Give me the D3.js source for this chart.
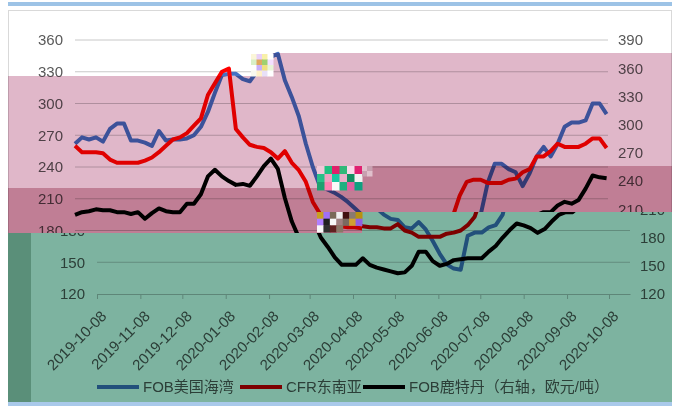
<!DOCTYPE html>
<html>
<head>
<meta charset="utf-8">
<script src="https://cdn.jsdelivr.net/npm/d3@7"></script>
<style>
  body { margin: 0; background: #fff; }
  text { font-family: "Liberation Sans", Arial, "Noto Sans CJK SC", sans-serif; }
</style>
</head>
<body>
<svg id="chart" width="680" height="406"></svg>
<script>
// sample dates (every 5 days)
var dates = [
  "2019-10-08","2019-10-13","2019-10-18","2019-10-23","2019-10-28","2019-11-02","2019-11-07","2019-11-12","2019-11-17","2019-11-22",
  "2019-11-27","2019-12-02","2019-12-07","2019-12-12","2019-12-17","2019-12-22","2019-12-27","2020-01-01","2020-01-06","2020-01-11",
  "2020-01-16","2020-01-21","2020-01-26","2020-01-31","2020-02-05","2020-02-10","2020-02-15","2020-02-20","2020-02-25","2020-03-01",
  "2020-03-06","2020-03-11","2020-03-16","2020-03-21","2020-03-26","2020-03-31","2020-04-05","2020-04-10","2020-04-15","2020-04-20",
  "2020-04-25","2020-04-30","2020-05-05","2020-05-10","2020-05-15","2020-05-20","2020-05-25","2020-05-30","2020-06-04","2020-06-09",
  "2020-06-14","2020-06-19","2020-06-24","2020-06-29","2020-07-04","2020-07-09","2020-07-14","2020-07-19","2020-07-24","2020-07-29",
  "2020-08-03","2020-08-08","2020-08-13","2020-08-18","2020-08-23","2020-08-28","2020-09-02","2020-09-07","2020-09-12","2020-09-17",
  "2020-09-22","2020-09-27","2020-10-02","2020-10-07","2020-10-12","2020-10-17","2020-10-22"
];

// FOB US Gulf (left axis)
var usGulf = [
  262,268,266,268,264,276,281,281,265,265,
  263,260,274,265,266,266,267,270,278,292,
  310,327,328,328,323,321,330,337,344,347,
  322,306,288,262,240,222,219,216,212,207,
  201,195,191,190,183,182,188,181,170,158,
  148,144,143,175,178,178,183,185,195,225,
  243,243,238,235,222,234,250,259,250,262,
  278,282,282,284,300,300,290
];

// CFR South-East Asia (left axis)
var cfrAsia = [
  260,254,254,254,253,247,244,244,244,244,
  246,249,254,260,266,268,272,279,286,308,
  319,330,333,276,268,261,259,258,254,248,
  255,244,237,226,207,196,190,186,184,183,
  183,182,182,186,180,178,174,174,174,174,
  177,178,180,185,193,213,226,228,228,225,
  225,225,228,229,235,238,250,250,255,262,
  259,259,259,262,267,267,258
];

// FOB Rotterdam (right axis, EUR/t)
var rotterdam = [
  204,207,208,210,209,209,207,207,205,207,
  200,206,211,208,207,207,216,216,226,245,
  252,245,240,236,237,235,245,256,264,253,
  222,197,180,170,159,151,151,151,158,151,
  148,146,144,142,143,150,165,165,155,150,
  152,156,157,158,158,158,165,171,180,188,
  195,193,190,185,189,197,204,207,207,214,
  218,216,220,232,246,244,243
];

var leftTicks = [120, 150, 180, 210, 240, 270, 300, 330, 360];
var rightTicks = [120, 150, 180, 210, 240, 270, 300, 330, 360, 390];
var monthTicks = ["2019-10-08","2019-11-08","2019-12-08","2020-01-08","2020-02-08","2020-03-08","2020-04-08",
                  "2020-05-08","2020-06-08","2020-07-08","2020-08-08","2020-09-08","2020-10-08"];
var seriesNames = ["FOB美国海湾", "CFR东南亚", "FOB鹿特丹（右轴，欧元/吨）"];
var seriesColors = ["#4472c4", "#ff0000", "#000000"];

var parse = d3.timeParse("%Y-%m-%d");
var fmt = d3.timeFormat("%Y-%m-%d");

var rows = dates.map(function(d, i) {
  return { date: parse(d), us: usGulf[i], asia: cfrAsia[i], rot: rotterdam[i] };
});

var x = d3.scaleTime().domain([parse("2019-10-08"), parse("2020-10-23")]).range([75, 608]);
var yL = d3.scaleLinear().domain([120, 360]).range([294, 40]);
var yR = d3.scaleLinear().domain([120, 390]).range([294, 40]);

var svg = d3.select("#chart");
var defs = svg.append("defs");

// regions of the (glitched) picture
var topPoly = [[0,0],[680,0],[680,212],[362,212],[362,233],[0,233]];
var greenPoly = [[31,233],[362,233],[362,212],[672,212],[672,402],[31,402]];
var lightPink = [[8,76],[273,76],[273,53],[672,53],[672,166],[317,166],[317,188],[8,188]];
var darkPink = [[8,188],[317,188],[317,166],[672,166],[672,212],[362,212],[362,233],[8,233]];

function pts(p) { return p.map(function(q) { return q.join(","); }).join(" "); }

defs.append("clipPath").attr("id", "clipTop").append("polygon").attr("points", pts(topPoly));
defs.append("clipPath").attr("id", "clipGreen").append("polygon").attr("points", pts(greenPoly));

// part: "top" = original position, "low" = block displaced to the right
function drawChart(g, part) {
  var isTop = part === "top";

  g.append("rect")
    .attr("x", 8.5).attr("y", 10.5).attr("width", 663).attr("height", 392)
    .attr("fill", "#fff").attr("stroke", "#d9d9d9");

  // gridlines
  g.append("g").selectAll("line")
    .data(leftTicks.slice(1))
    .join("line")
    .attr("x1", 75).attr("x2", 608)
    .attr("y1", d => yL(d)).attr("y2", d => yL(d))
    .attr("stroke", "#c8c8c8").attr("stroke-width", 1);

  // only labels that can show in this part
  var lt = leftTicks.filter(d => isTop ? d >= 180 : d <= 180);
  var rt = rightTicks.filter(d => isTop ? d >= 210 : d <= 210);

  var yAxisL = d3.axisLeft(yL).tickValues(lt).tickSize(0).tickPadding(12);
  var yAxisR = d3.axisRight(yR).tickValues(rt).tickSize(0).tickPadding(10);

  var gl = g.append("g").attr("transform", "translate(75,0)").call(yAxisL);
  var gr = g.append("g").attr("transform", "translate(608,0)").call(yAxisR);
  [gl, gr].forEach(function(a) {
    a.select(".domain").remove();
    a.selectAll("text").attr("font-size", 15).attr("fill", "#595959")
      .style("font-family", "'Liberation Sans', Arial, sans-serif");
  });

  if (!isTop) {
    var xAxis = d3.axisBottom(x)
      .tickValues(monthTicks.map(parse))
      .tickFormat(fmt)
      .tickSize(5)
      .tickSizeOuter(0);

    var gx = g.append("g").attr("transform", "translate(0,294)").call(xAxis);
    gx.select(".domain").attr("stroke", "#bfbfbf");
    gx.selectAll(".tick line").attr("stroke", "#bfbfbf");
    gx.selectAll("text")
      .attr("font-size", 15).attr("fill", "#595959")
      .style("font-family", "'Liberation Sans', Arial, sans-serif")
      .attr("text-anchor", "end")
      .attr("y", 0).attr("dy", 0)
      .attr("transform", "translate(10,23) rotate(-45)");
  }

  // series
  var lineL = function(key) {
    return d3.line().x(d => x(d.date)).y(d => yL(d[key]));
  };
  g.append("path").datum(rows)
    .attr("d", lineL("us"))
    .attr("fill", "none").attr("stroke", seriesColors[0])
    .attr("stroke-width", 4).attr("stroke-linejoin", "round");
  g.append("path").datum(rows)
    .attr("d", lineL("asia"))
    .attr("fill", "none").attr("stroke", seriesColors[1])
    .attr("stroke-width", 4).attr("stroke-linejoin", "round");
  g.append("path").datum(rows)
    .attr("d", d3.line().x(d => x(d.date)).y(d => yR(d.rot)))
    .attr("fill", "none").attr("stroke", seriesColors[2])
    .attr("stroke-width", 4).attr("stroke-linejoin", "round");

  if (!isTop) {
    // legend
    var legendX = [75, 218, 341];
    var leg = g.append("g").selectAll("g")
      .data(seriesNames)
      .join("g")
      .attr("transform", (d, i) => `translate(${legendX[i]}, 387)`);
    leg.append("line")
      .attr("x1", 0).attr("x2", 42)
      .attr("stroke", (d, i) => seriesColors[i]).attr("stroke-width", 4);
    leg.append("text")
      .attr("x", 46).attr("dy", "0.36em")
      .attr("font-size", 15).attr("fill", "#595959")
      .text(d => d);
  }
}

// untouched upper part
drawChart(svg.append("g").attr("clip-path", "url(#clipTop)"), "top");
// displaced lower block
drawChart(svg.append("g").attr("clip-path", "url(#clipGreen)")
  .append("g").attr("transform", "translate(22,0)"), "low");

// colour casts
function tint(poly, color) {
  svg.append("polygon").attr("points", pts(poly))
    .attr("fill", color).style("mix-blend-mode", "multiply");
}
tint(lightPink, "#e0b7c9");
tint(darkPink, "#c07e95");
tint(greenPoly, "#7db3a0");
svg.append("rect").attr("x", 8).attr("y", 233).attr("width", 23).attr("height", 169)
  .attr("fill", "#5a8f79");

// noisy blocks
var noise = svg.append("g");
function block(x0, y0, w, h, colors) {
  var n = colors.length, cols = Math.ceil(Math.sqrt(n * w / h)), rowsN = Math.ceil(n / cols);
  colors.forEach(function(c, i) {
    noise.append("rect")
      .attr("x", x0 + (i % cols) * w / cols).attr("y", y0 + Math.floor(i / cols) * h / rowsN)
      .attr("width", w / cols + 0.5).attr("height", h / rowsN + 0.5)
      .attr("fill", c);
  });
}
block(251, 54, 22, 22, ["#fbf6d8","#e8d0f8","#f8f0a8","#ffffff",
                        "#d8f0c8","#e0a860","#9fd070","#f4e0ff",
                        "#ffffff","#c8b0f8","#f0e080","#e8f4d8",
                        "#f8f8f0","#fff0c8","#e8e0f8","#ffffff"]);
block(317, 166, 45, 24, ["#f0c8d8","#20c080","#e0206a","#30b878","#f8d8e8","#e02070","#28c088","#f0a0c0","#18c8a0",
                         "#e8b0c8","#109060","#f0f0f0","#20a070","#ff80b0","#f8f8f8","#20b080","#e060a0","#10a080"]);
block(362, 166, 10, 10, ["#e0c0cc","#c8a0b0","#c8a0b0","#e0c0cc"]);
block(317, 212, 45, 20, ["#c8a020","#a070f8","#7a6a58","#f0f0f0","#401010","#8a7a70",
                         "#b89010","#b080ff","#202020","#f8f8f8","#a08080","#7a6a60",
                         "#d0a030","#9060e0","#f8f8f8","#303030","#602020","#8a7868"]);

// frame strips
svg.append("rect").attr("x", 8).attr("y", 2).attr("width", 664).attr("height", 4).attr("fill", "#9dc3e6");
svg.append("rect").attr("x", 8).attr("y", 402).attr("width", 664).attr("height", 4).attr("fill", "#a9c9ea");
</script>
</body>
</html>
